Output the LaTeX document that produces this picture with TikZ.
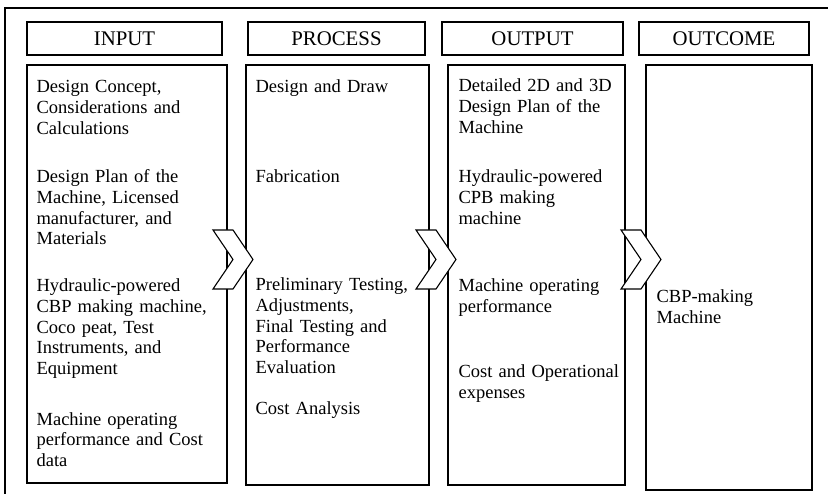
\documentclass[tikz,border=0pt]{standalone}
\usepackage{fontspec}
\setmainfont{Liberation Serif}
\usetikzlibrary{positioning}
\begin{document}
\begin{tikzpicture}[x=1pt,y=-1pt,line width=1.2pt,
  head/.style={draw,minimum height=33pt,inner sep=0pt,font=\fontsize{20.8}{24}\selectfont},
  txt/.style={anchor=base west,inner sep=0pt,text width=185pt,align=left,font=\fontsize{18.5}{20.6}\selectfont},
  chev/.style={draw,fill=white,line width=1.1pt,line join=miter}]
\useasboundingbox (0,0) rectangle (828,494);
\draw[line width=1.5pt] (5,8) rectangle (850,520);
\node[head,minimum width=195pt] (hin) at (124.5,38.5) {INPUT};
\node[head,minimum width=177pt] (hpro) at (336.5,38.5) {PROCESS};
\node[head,minimum width=181pt] (hout) at (532.5,38.5) {OUTPUT};
\node[head,minimum width=170pt] (hoc) at (724,38.5) {OUTCOME};
\draw (27,65) rectangle (227,483);
\draw (246,65) rectangle (429,485);
\draw (448,65) rectangle (625,485);
\draw (646,65) rectangle (812,490);
\node[txt] (in1) at (36,93) {Design Concept,\\Considerations and\\Calculations};
\node[txt] (in2) at (36,183) {Design Plan of the\\Machine, Licensed\\manufacturer, and\\Materials};
\node[txt] (in3) at (36,292) {Hydraulic-powered\\CBP making machine,\\Coco peat, Test\\Instruments, and\\Equipment};
\node[txt] (in4) at (36,425) {Machine operating\\performance and Cost\\data};
\node[txt] (pro1) at (255,93) {Design and Draw};
\node[txt] (pro2) at (255,183) {Fabrication};
\node[txt] (pro3) at (255,291) {Preliminary Testing,\\Adjustments,\\Final Testing and\\Performance\\Evaluation};
\node[txt] (pro4) at (255,415) {Cost Analysis};
\node[txt] (out1) at (458,92) {Detailed 2D and 3D\\Design Plan of the\\Machine};
\node[txt] (out2) at (458,183) {Hydraulic-powered\\CPB making\\machine};
\node[txt] (out3) at (458,292) {Machine operating\\performance};
\node[txt] (out4) at (458,378) {Cost and Operational\\expenses};
\node[txt] (oc1) at (656,303) {CBP-making\\Machine};
\foreach \x in {213,416,621}
  \draw[chev] (\x,230) -- ++(20,0) -- ++(20,29.5) -- ++(-20,29.5) -- ++(-20,0) -- ++(20,-29.5) -- cycle;
\end{tikzpicture}
\end{document}
